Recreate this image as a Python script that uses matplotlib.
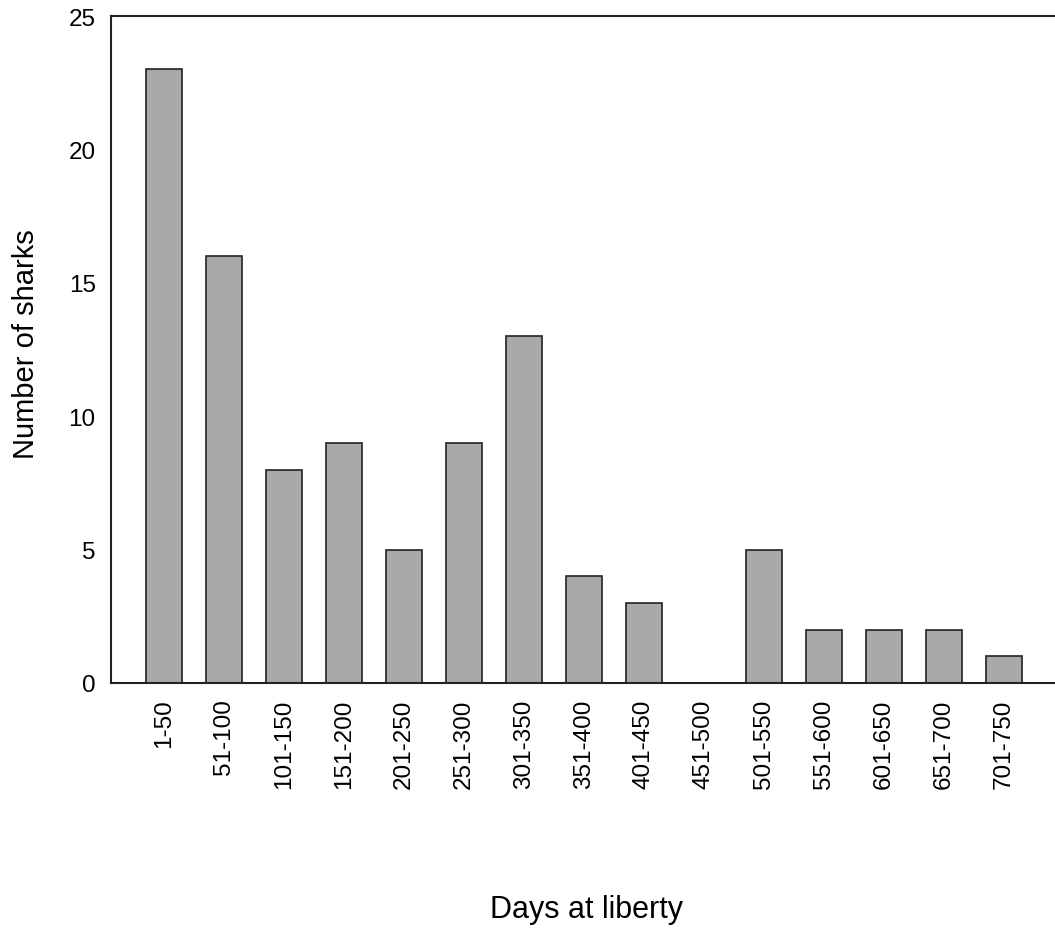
import numpy as np
import matplotlib.pyplot as plt

plt.rcParams['font.family'] = ['Liberation Sans', 'DejaVu Sans']

bins = ['1-50', '51-100', '101-150', '151-200', '201-250', '251-300', '301-350',
        '351-400', '401-450', '451-500', '501-550', '551-600', '601-650',
        '651-700', '701-750']
counts = [23, 16, 8, 9, 5, 9, 13, 4, 3, 0, 5, 2, 2, 2, 1]

W, H = 1055, 929
fig = plt.figure(figsize=(W / 100, H / 100), dpi=100)
left, right, top, bottom = 111, 1058, 17, 684
ax = fig.add_axes([left / W, 1 - bottom / H, (right - left) / W, (bottom - top) / H])

x = np.arange(len(bins))
ax.bar(x, counts, width=0.6, color='#a9a9a9', edgecolor='#222222', linewidth=1.2)

ax.set_xlim(-0.883, len(bins) - 1 + 0.9)
ax.set_ylim(0, 25)
ax.set_yticks([0, 5, 10, 15, 20, 25])
ax.set_xticks(x)
ax.set_xticklabels(bins, rotation=90)
ax.tick_params(axis='both', length=0, labelsize=17.5)
ax.tick_params(axis='y', pad=11)
ax.tick_params(axis='x', pad=11)
for s in ax.spines.values():
    s.set_linewidth(1.5)
    s.set_color('#222222')

ax.set_ylabel('Number of sharks', fontsize=21, labelpad=22)
ax.yaxis.set_label_coords(-0.075, 0.51)
fig.text(587 / W, 1 - 910 / H, 'Days at liberty', fontsize=22, ha='center', va='center')

fig.savefig('out.png', dpi=100)
